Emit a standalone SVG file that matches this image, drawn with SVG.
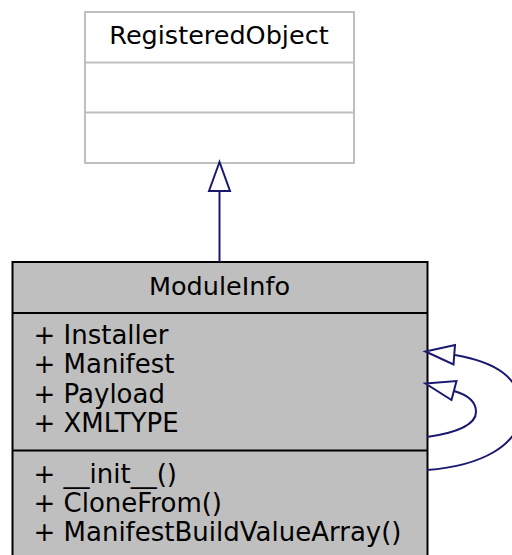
<svg xmlns="http://www.w3.org/2000/svg" width="512" height="555" viewBox="0 0 512 555">
<style>
text{font-family:"DejaVu Sans",sans-serif;font-size:25.5px;fill:#000}
.m{font-size:26px}
.edge{fill:none;stroke:#191970;stroke-width:2}
.head{fill:#fff;stroke:#191970;stroke-width:2}
</style>
<rect width="512" height="555" fill="#fff"/>
<g id="RegisteredObject">
<rect x="85" y="12" width="269" height="151" fill="#fff" stroke="#bfbfbf" stroke-width="2"/>
<line x1="85" y1="62.5" x2="354" y2="62.5" stroke="#bfbfbf" stroke-width="2"/>
<line x1="85" y1="112.5" x2="354" y2="112.5" stroke="#bfbfbf" stroke-width="2"/>
<text x="219" y="44" text-anchor="middle">RegisteredObject</text>
</g>
<g id="ModuleInfo">
<rect x="12.5" y="262" width="415" height="300" fill="#bfbfbf" stroke="#000" stroke-width="2"/>
<line x1="12.5" y1="313" x2="427.5" y2="313" stroke="#000" stroke-width="2"/>
<line x1="12.5" y1="450.5" x2="427.5" y2="450.5" stroke="#000" stroke-width="2"/>
<text x="219.5" y="294.5" text-anchor="middle">ModuleInfo</text>
<text class="m" x="33.5" y="343.5">+ Installer</text>
<text class="m" x="33.5" y="373">+ Manifest</text>
<text class="m" x="33.5" y="402.5">+ Payload</text>
<text class="m" x="33.5" y="432">+ XMLTYPE</text>
<text class="m" x="33.5" y="483">+ __init__()</text>
<text class="m" x="33.5" y="512">+ CloneFrom()</text>
<text class="m" x="33.5" y="541">+ ManifestBuildValueArray()</text>
</g>
<g id="connectors">
<line class="edge" x1="219.5" y1="191" x2="219.5" y2="262"/>
<polygon class="head" points="219.5,162 209,191 230,191"/>
<path class="edge" d="M427,470 C480,466 521,446 521,410 C521,377 495,362 455,355"/>
<polygon class="head" points="425.5,351.5 455,345 453.5,364.5"/>
<path class="edge" d="M427,437 C455,433 476,425 476,412 C476,402 468,395 454,391"/>
<polygon class="head" points="425.5,383.5 456.5,381 451.5,400"/>
</g>
</svg>
